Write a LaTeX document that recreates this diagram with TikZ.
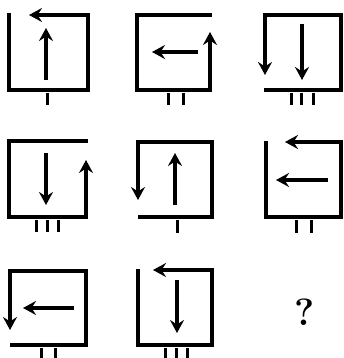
\documentclass[tikz,border=0pt]{standalone}
\usetikzlibrary{arrows.meta}
\begin{document}
\begin{tikzpicture}[x=1pt,y=-1pt,
  edge/.style={line width=4pt,line cap=rect},
  arr/.style={line width=3.6pt,-{Stealth[length=13pt,width=14pt,inset=4.5pt]}},
  tick/.style={line width=3pt}]
\path[use as bounding box] (0,0) rectangle (343,358);
% Row 1, cell 1
\draw[edge] (9,15) -- (9,90) -- (88,90) -- (88,15);
\draw[arr] (88,15) -- (29,15);
\draw[arr] (46,80) -- (46,28);
\draw[tick] (47,93) -- (47,105);
% Row 1, cell 2
\draw[edge] (210,15) -- (137,15) -- (137,90) -- (210,90);
\draw[arr] (210,90) -- (210,32);
\draw[arr] (198,52) -- (152,52);
\foreach \t in {168,183} \draw[tick] (\t,93) -- (\t,105);
% Row 1, cell 3
\draw[edge] (266,90) -- (341,90) -- (341,15) -- (265,15);
\draw[arr] (265,15) -- (265,75);
\draw[arr] (302,24) -- (302,80);
\foreach \t in {291,301,313} \draw[tick] (\t,93) -- (\t,105);
% Row 2, cell 1
\draw[edge] (86,141) -- (9,141) -- (9,217) -- (86,217);
\draw[arr] (86,217) -- (86,160);
\draw[arr] (46,153) -- (46,205);
\foreach \t in {36,47,58} \draw[tick] (\t,220) -- (\t,232);
% Row 2, cell 2
\draw[edge] (138,142) -- (212,142) -- (212,217) -- (140,217);
\draw[arr] (138,142) -- (138,200);
\draw[arr] (175,205) -- (175,153);
\draw[tick] (177,220) -- (177,233);
% Row 2, cell 3
\draw[edge] (266,143) -- (266,217) -- (341,217) -- (341,142);
\draw[arr] (341,142) -- (285,142);
\draw[arr] (328,180) -- (276,180);
\foreach \t in {296,311} \draw[tick] (\t,220) -- (\t,233);
% Row 3, cell 1
\draw[edge] (10,271) -- (86,271) -- (86,345) -- (12,345);
\draw[arr] (10,271) -- (10,330);
\draw[arr] (74,308) -- (23,308);
\foreach \t in {41,55} \draw[tick] (\t,348) -- (\t,358);
% Row 3, cell 2
\draw[edge] (138,271) -- (138,345) -- (212,345) -- (212,270);
\draw[arr] (212,270) -- (153,270);
\draw[arr] (177,280) -- (177,333);
\foreach \t in {165,176,187} \draw[tick] (\t,348) -- (\t,358);
% Question mark
\node (q) at (305,312) {\fontsize{38}{38}\selectfont\bfseries ?};
\end{tikzpicture}
\end{document}
